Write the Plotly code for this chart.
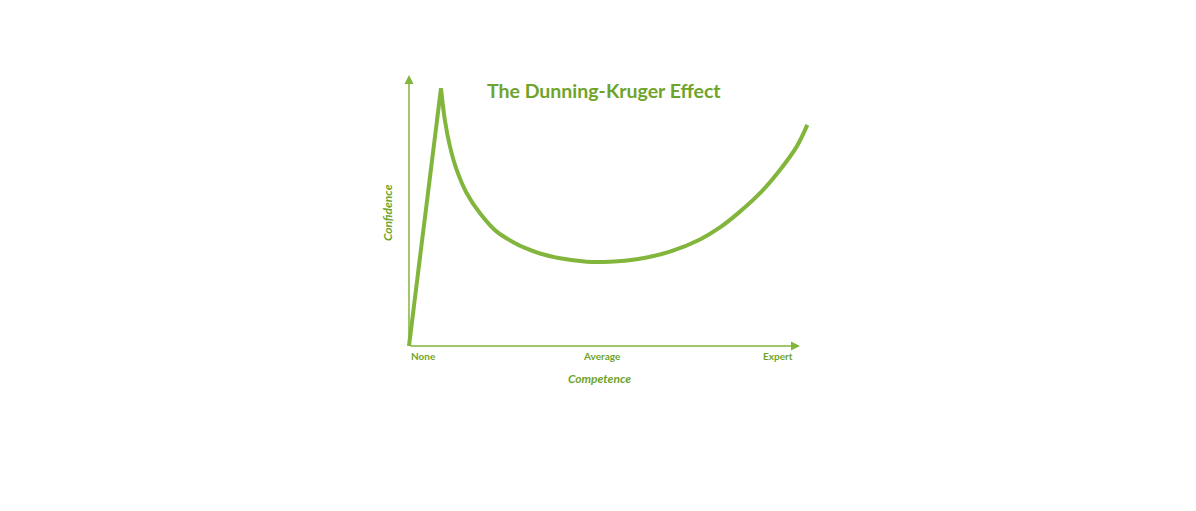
import plotly.graph_objects as go

# Data (competence 0..100, confidence 0..100)
rise_x = [0, 8.29]
rise_y = [0, 95.1]
curve_x = [8.29, 9.33, 10.62, 12.36, 14.95, 18.39, 22.72, 27.02, 30.05, 33.94, 39.12,
           46.04, 52.07, 58.99, 67.62, 75.39, 80.57, 85.75, 90.93, 96.11, 100.44, 103.19]
curve_y = [95.1, 83.0, 73.54, 64.94, 56.35, 48.97, 42.18, 38.3, 36.16, 34.13, 32.36,
           31.11, 31.11, 31.99, 34.80, 39.30, 43.73, 49.56, 56.35, 64.94, 73.54, 81.55]
tick_vals = [0, 50, 100]
tick_text = ["None", "Average", "Expert"]
title_text = "The Dunning-Kruger Effect"
x_title = "Competence"
y_title = "Confidence"

line_col = "#82b53c"
axis_col = "#82b53c"
text_col = "#6fa42a"
font_fam = "Lato, 'Open Sans', sans-serif"

fig = go.Figure()
fig.add_trace(go.Scatter(x=rise_x, y=rise_y, mode="lines",
                         line=dict(color=line_col, width=4, shape="linear"),
                         hoverinfo="skip", showlegend=False))
fig.add_trace(go.Scatter(x=curve_x, y=curve_y, mode="lines",
                         line=dict(color=line_col, width=4, shape="spline", smoothing=1.0),
                         hoverinfo="skip", showlegend=False))

annotations = []
# axes arrows
annotations.append(dict(x=0, y=100, ax=0, ay=0, xref="x", yref="y", axref="x", ayref="y",
                        showarrow=True, arrowhead=2, arrowsize=1.2, arrowwidth=1.5,
                        arrowcolor=axis_col, text=""))
annotations.append(dict(x=101.3, y=0, ax=0, ay=0, xref="x", yref="y", axref="x", ayref="y",
                        showarrow=True, arrowhead=2, arrowsize=1.2, arrowwidth=1.5,
                        arrowcolor=axis_col, text=""))
anchors = ["left", "center", "right"]
for v, t, a in zip(tick_vals, tick_text, anchors):
    annotations.append(dict(x=v, y=-3.7, xref="x", yref="y", text="<b>%s</b>" % t,
                            showarrow=False, xanchor=a, yanchor="middle",
                            font=dict(family=font_fam, size=10, color=text_col)))
annotations.append(dict(x=0.476, y=-0.06, xref="paper", yref="paper",
                        text="<b><i>%s</i></b>" % x_title,
                        showarrow=False, xanchor="center", yanchor="middle",
                        font=dict(family=font_fam, size=12, color=text_col)))
annotations.append(dict(x=-0.031, y=0.493, xref="paper", yref="paper",
                        text="<b><i>%s</i></b>" % y_title,
                        showarrow=False, textangle=-90, xanchor="center", yanchor="middle",
                        font=dict(family=font_fam, size=12, color=text_col)))
annotations.append(dict(x=50.5, y=94.1, xref="x", yref="y", text="<b>%s</b>" % title_text,
                        showarrow=False, xanchor="center", yanchor="middle",
                        font=dict(family=font_fam, size=19.5, color=text_col)))

fig.update_layout(
    width=1196, height=511,
    margin=dict(l=392, r=384, t=52, b=159),
    paper_bgcolor="white", plot_bgcolor="white",
    xaxis=dict(range=[-2.33, 106.48], visible=False, fixedrange=True),
    yaxis=dict(range=[-5.17, 105.5], visible=False, fixedrange=True),
    annotations=annotations,
    showlegend=False,
)
fig.write_html("out.html")
